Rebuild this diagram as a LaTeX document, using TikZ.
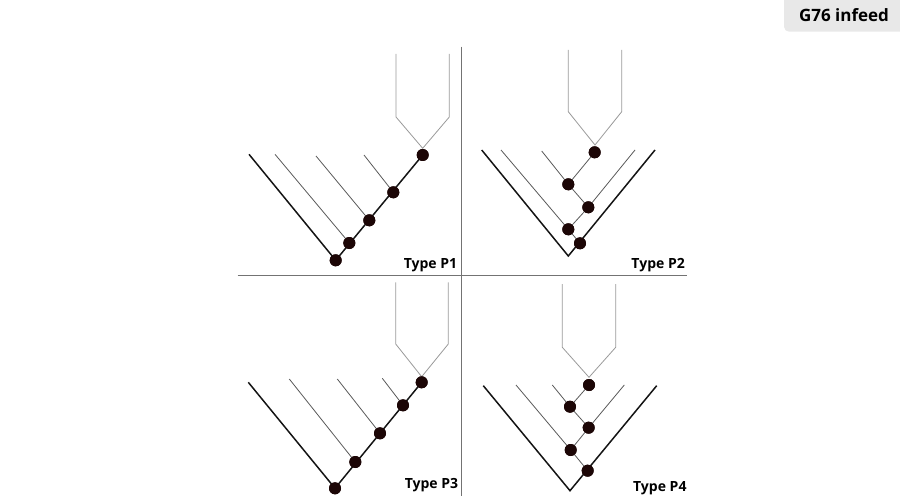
\documentclass[tikz,border=0pt]{standalone}
\usepackage{fontspec}
\setmainfont{Open Sans}
\begin{document}
\begin{tikzpicture}[x=1pt,y=-1pt,
  thick flank/.style={draw=black!92, line width=1.5pt},
  thin flank/.style={draw=black!65, line width=0.8pt},
  tool/.style={draw=black!40, line width=0.8pt},
  divider/.style={draw=black!55, line width=0.9pt},
  dot/.style={circle, fill={rgb,255:red,28;green,6;blue,6}, inner sep=0pt, minimum size=12pt},
  lbl/.style={font=\fontsize{14}{17}\selectfont\bfseries, inner sep=0pt, anchor=base east},
  tag/.style={font=\fontsize{17}{20}\selectfont\bfseries, inner sep=0pt}
]
\useasboundingbox (0,0) rectangle (900,500);
% tag
\fill[black!9, rounded corners=5pt] (784,-10) rectangle (910,31.7);
\node[tag] (tag) at (844,15) {G76 infeed};
% dividers
\coordinate (vt) at (461,46.7); \coordinate (vb) at (461,496);
\coordinate (hl) at (237.7,275.3); \coordinate (hr) at (686.7,275.3);
\draw[divider] (vt) -- (vb);
\draw[divider] (hl) -- (hr);

% ---------- P1 ----------
\coordinate (a1) at (396,54); \coordinate (a2) at (396,117); \coordinate (at) at (422.7,148.3);
\coordinate (a3) at (449.3,117); \coordinate (a4) at (449.3,54);
\draw[tool] (a1) -- (a2) -- (at) -- (a3) -- (a4);
\node[dot] (p1a) at (422.7,155) {};
\node[dot] (p1b) at (393.3,192.3) {};
\node[dot] (p1c) at (369.3,220.3) {};
\node[dot] (p1d) at (349.3,243) {};
\node[dot] (p1e) at (335.7,260.3) {};
\coordinate (p1l0) at (249,154.3);
\coordinate (p1l1) at (275,154.3);
\coordinate (p1l2) at (316,156);
\coordinate (p1l3) at (364,155);
\draw[thick flank] (p1l0) -- (p1e.center);
\draw[thin flank] (p1l1) -- (p1d.center);
\draw[thin flank] (p1l2) -- (p1c.center);
\draw[thin flank] (p1l3) -- (p1b.center);
\draw[thick flank] (p1a.center) -- (p1e.center);
\foreach \n in {p1a,p1b,p1c,p1d,p1e} \node[dot] at (\n) {};
\node[lbl] (t1) at (457.3,268) {Type P1};

% ---------- P2 ----------
\coordinate (b1) at (568.3,50); \coordinate (b2) at (568.3,111.7); \coordinate (bt) at (595,145);
\coordinate (b3) at (621.7,111.7); \coordinate (b4) at (621.7,50);
\draw[tool] (b1) -- (b2) -- (bt) -- (b3) -- (b4);
\node[dot] (p2a) at (594.7,152.3) {};
\node[dot] (p2b) at (568.3,184.3) {};
\node[dot] (p2c) at (588.3,207.3) {};
\node[dot] (p2d) at (568.3,229.3) {};
\node[dot] (p2e) at (580,243.3) {};
\coordinate (p2bot) at (568.3,256);
\coordinate (p2l0) at (481.7,150);
\coordinate (p2r0) at (655,150);
\coordinate (p2l1) at (501,150);
\coordinate (p2l2) at (541.7,151);
\coordinate (p2r1) at (635,150);
\draw[thick flank] (p2l0) -- (p2bot) -- (p2r0);
\draw[thin flank] (p2l1) -- (p2d.center) -- (p2e.center);
\draw[thin flank] (p2l2) -- (p2b.center) -- (p2c.center);
\draw[thin flank] (p2r1) -- (p2c.center) -- (p2d.center);
\draw[thin flank] (p2a.center) -- (p2b.center);
\foreach \n in {p2a,p2b,p2c,p2d,p2e} \node[dot] at (\n) {};
\node[lbl] (t2) at (685,268) {Type P2};

% ---------- P3 ----------
\coordinate (c1) at (395.7,282.3); \coordinate (c2) at (395.7,344); \coordinate (ct) at (421.7,376.7);
\coordinate (c3) at (448.3,344); \coordinate (c4) at (448.3,282.3);
\draw[tool] (c1) -- (c2) -- (ct) -- (c3) -- (c4);
\node[dot] (p3a) at (421.7,382.3) {};
\node[dot] (p3b) at (403,405.3) {};
\node[dot] (p3c) at (380,433.3) {};
\node[dot] (p3d) at (355.3,462) {};
\node[dot] (p3e) at (335,488.3) {};
\coordinate (p3l0) at (248.3,382.3);
\coordinate (p3l1) at (289.3,379);
\coordinate (p3l2) at (337.3,379);
\coordinate (p3l3) at (382.3,378.3);
\draw[thick flank] (p3l0) -- (p3e.center);
\draw[thin flank] (p3l1) -- (p3d.center);
\draw[thin flank] (p3l2) -- (p3c.center);
\draw[thin flank] (p3l3) -- (p3b.center);
\draw[thick flank] (p3a.center) -- (p3e.center);
\foreach \n in {p3a,p3b,p3c,p3d,p3e} \node[dot] at (\n) {};
\node[lbl] (t3) at (458.3,488.5) {Type P3};

% ---------- P4 ----------
\coordinate (d1) at (562.3,284); \coordinate (d2) at (562.3,347.3); \coordinate (dt) at (589,377.3);
\coordinate (d3) at (615.7,347.3); \coordinate (d4) at (615.7,284);
\draw[tool] (d1) -- (d2) -- (dt) -- (d3) -- (d4);
\node[dot] (p4a) at (589,385) {};
\node[dot] (p4b) at (570,406.7) {};
\node[dot] (p4c) at (588.7,427.7) {};
\node[dot] (p4d) at (570.7,450) {};
\node[dot] (p4e) at (587.7,470.7) {};
\coordinate (p4bot) at (570,490.7);
\coordinate (p4l0) at (483.3,385.7);
\coordinate (p4r0) at (656.7,385.7);
\coordinate (p4l1) at (516,385);
\coordinate (p4l2) at (552.3,385);
\coordinate (p4r1) at (624.3,385);
\draw[thick flank] (p4l0) -- (p4bot) -- (p4r0);
\draw[thin flank] (p4l1) -- (p4d.center) -- (p4e.center);
\draw[thin flank] (p4l2) -- (p4b.center) -- (p4c.center);
\draw[thin flank] (p4r1) -- (p4c.center) -- (p4d.center);
\draw[thin flank] (p4a.center) -- (p4b.center);
\foreach \n in {p4a,p4b,p4c,p4d,p4e} \node[dot] at (\n) {};
\node[lbl] (t4) at (686.7,491.7) {Type P4};
\end{tikzpicture}
\end{document}
